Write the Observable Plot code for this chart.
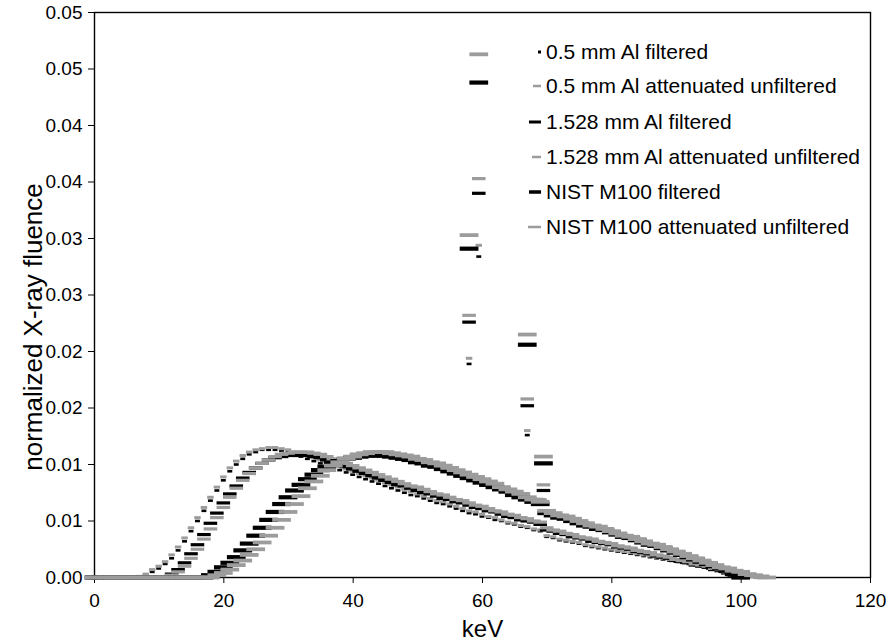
<!DOCTYPE html>
<html><head><meta charset="utf-8">
<script src="https://cdn.jsdelivr.net/npm/d3@7"></script>
<script src="https://cdn.jsdelivr.net/npm/@observablehq/plot@0.6"></script>
<style>
html,body{margin:0;padding:0;background:#fff;}
#chart{position:relative;width:890px;height:643px;}
</style></head><body><div id="chart"></div>
<script>
// ---- data ----
const keV = [0,1,2,3,4,5,6,7,8,9,10,11,12,13,14,15,16,17,18,19,20,21,22,23,24,25,26,27,28,29,30,31,32,33,34,35,36,37,38,39,40,41,42,43,44,45,46,47,48,49,50,51,52,53,54,55,56,57,58,59,60,61,62,63,64,65,66,67,68,69,70,71,72,73,74,75,76,77,78,79,80,81,82,83,84,85,86,87,88,89,90,91,92,93,94,95,96,97,98,99,100,101,102,103,104,105];

const seriesNames = ["0.5 mm Al filtered","0.5 mm Al attenuated unfiltered","1.528 mm Al filtered","1.528 mm Al attenuated unfiltered","NIST M100 filtered","NIST M100 attenuated unfiltered"];

// continuum spectra (one value per keV in the keV array)
const f05 = [0,0,0,0,0,0,0,0,0.0002,0.0005,0.0008,0.0012,0.0017,0.0024,0.0032,0.0041,0.0050,0.0059,0.0068,0.0077,0.0086,0.0094,0.0100,0.0105,0.0109,0.0111,0.0113,0.0113,0.0113,0.0112,0.0111,0.0109,0.0107,0.0105,0.0103,0.0101,0.0099,0.0097,0.0095,0.0093,0.0091,0.0089,0.0087,0.0085,0.0083,0.0081,0.0079,0.0077,0.0075,0.0073,0.0072,0.0070,0.0068,0.0066,0.0065,0.0063,0.0061,0.0059,0.0057,0.0056,0.0054,0.0053,0.0051,0.0050,0.0048,0.0047,0.0045,0.0044,0.0042,0.0041,0.0036,0.0035,0.0033,0.0032,0.0031,0.0030,0.0028,0.0027,0.0026,0.0025,0.0024,0.0023,0.0022,0.0021,0.0020,0.0019,0.0018,0.0017,0.0016,0.0015,0.0014,0.0013,0.0012,0.0011,0.0010,0.0008,0.0007,0.0005,0.0004,0.0002,0];
const a05 = [0,0,0,0,0,0,0,0.0001,0.0003,0.0007,0.0010,0.0014,0.0020,0.0027,0.0035,0.0044,0.0053,0.0062,0.0071,0.0080,0.0089,0.0097,0.0103,0.0108,0.0111,0.0113,0.0114,0.0115,0.0115,0.0114,0.0113,0.0111,0.0110,0.0108,0.0106,0.0104,0.0102,0.0100,0.0098,0.0096,0.0094,0.0092,0.0090,0.0088,0.0086,0.0084,0.0082,0.0080,0.0078,0.0076,0.0074,0.0072,0.0070,0.0068,0.0067,0.0065,0.0063,0.0061,0.0059,0.0058,0.0056,0.0054,0.0053,0.0051,0.0049,0.0048,0.0046,0.0045,0.0043,0.0042,0.0037,0.0036,0.0034,0.0033,0.0032,0.0031,0.0029,0.0028,0.0027,0.0026,0.0025,0.0024,0.0023,0.0022,0.0021,0.0020,0.0019,0.0018,0.0017,0.0016,0.0015,0.0014,0.0013,0.0012,0.0011,0.0010,0.0008,0.0007,0.0005,0.0004,0.0003,0.0002,0.0001,0];
const f1528 = [0,0,0,0,0,0,0,0,0,0,0,0,0.0003,0.0007,0.0013,0.0021,0.0029,0.0038,0.0048,0.0057,0.0066,0.0074,0.0081,0.0088,0.0093,0.0097,0.0101,0.0104,0.0106,0.0107,0.0108,0.0108,0.0108,0.0108,0.0107,0.0106,0.0104,0.0102,0.0100,0.0098,0.0096,0.0094,0.0092,0.0090,0.0088,0.0086,0.0084,0.0082,0.0081,0.0079,0.0077,0.0075,0.0074,0.0072,0.0070,0.0069,0.0067,0.0066,0.0064,0.0062,0.0061,0.0059,0.0058,0.0056,0.0054,0.0053,0.0051,0.0050,0.0049,0.0047,0.0042,0.0041,0.0039,0.0038,0.0036,0.0035,0.0034,0.0032,0.0031,0.0030,0.0029,0.0027,0.0026,0.0025,0.0023,0.0022,0.0021,0.0019,0.0018,0.0017,0.0015,0.0014,0.0013,0.0011,0.0010,0.0009,0.0007,0.0006,0.0004,0.0002,0];
const a1528 = [0,0,0,0,0,0,0,0,0,0,0,0,0.0002,0.0005,0.0010,0.0017,0.0025,0.0034,0.0043,0.0053,0.0062,0.0071,0.0079,0.0086,0.0092,0.0097,0.0101,0.0104,0.0107,0.0109,0.0110,0.0111,0.0111,0.0111,0.0110,0.0109,0.0107,0.0105,0.0103,0.0101,0.0099,0.0097,0.0095,0.0093,0.0091,0.0089,0.0087,0.0085,0.0083,0.0081,0.0080,0.0078,0.0076,0.0074,0.0073,0.0071,0.0069,0.0068,0.0066,0.0064,0.0063,0.0061,0.0059,0.0058,0.0056,0.0055,0.0053,0.0052,0.0050,0.0049,0.0044,0.0042,0.0041,0.0039,0.0038,0.0036,0.0035,0.0034,0.0032,0.0031,0.0030,0.0028,0.0027,0.0026,0.0024,0.0023,0.0022,0.0020,0.0019,0.0018,0.0016,0.0015,0.0014,0.0012,0.0011,0.0010,0.0008,0.0007,0.0005,0.0004,0.0003,0.0002,0.0001,0];
const fNIST = [0,0,0,0,0,0,0,0,0,0,0,0,0,0,0,0,0,0,0.0002,0.0005,0.0009,0.0013,0.0018,0.0024,0.0030,0.0037,0.0044,0.0051,0.0058,0.0065,0.0071,0.0077,0.0082,0.0087,0.0091,0.0095,0.0098,0.0101,0.0103,0.0105,0.0106,0.0107,0.0108,0.0108,0.0108,0.0108,0.0107,0.0106,0.0105,0.0104,0.0102,0.0101,0.0099,0.0098,0.0096,0.0094,0.0092,0.0090,0.0088,0.0086,0.0084,0.0082,0.0080,0.0078,0.0076,0.0073,0.0071,0.0069,0.0067,0.0065,0.0057,0.0055,0.0053,0.0052,0.0050,0.0048,0.0046,0.0045,0.0043,0.0042,0.0040,0.0038,0.0036,0.0035,0.0033,0.0031,0.0029,0.0028,0.0026,0.0024,0.0022,0.0020,0.0018,0.0016,0.0014,0.0012,0.0010,0.0008,0.0006,0.0003,0];
const aNIST = [0,0,0,0,0,0,0,0,0,0,0,0,0,0,0,0,0,0,0,0.0002,0.0004,0.0007,0.0011,0.0015,0.0020,0.0025,0.0031,0.0037,0.0044,0.0051,0.0058,0.0065,0.0072,0.0079,0.0085,0.0090,0.0095,0.0099,0.0102,0.0105,0.0107,0.0109,0.0110,0.0111,0.0111,0.0111,0.0110,0.0109,0.0108,0.0107,0.0105,0.0104,0.0102,0.0101,0.0099,0.0097,0.0095,0.0093,0.0091,0.0089,0.0087,0.0085,0.0083,0.0080,0.0078,0.0076,0.0074,0.0071,0.0069,0.0067,0.0059,0.0057,0.0055,0.0054,0.0052,0.0050,0.0048,0.0046,0.0045,0.0043,0.0041,0.0039,0.0037,0.0036,0.0034,0.0032,0.0030,0.0029,0.0027,0.0025,0.0023,0.0021,0.0019,0.0017,0.0015,0.0013,0.0011,0.0009,0.0008,0.0006,0.0005,0.0003,0.0002,0.0001,0];

// characteristic tungsten lines (K-alpha2, K-alpha1, K-beta1, K-beta2)
const lineKeV = [58, 59.5, 67, 69.5];
const linesF05   = [0.0189, 0.0284, 0.0126, 0.0065];
const linesA05   = [0.0194, 0.0294, 0.0130, 0.0069];
const linesF1528 = [0.0226, 0.0340, 0.0152, 0.0077];
const linesA1528 = [0.0232, 0.0353, 0.0158, 0.0082];
const linesFNIST = [0.0291, 0.0438, 0.0206, 0.0101];
const linesANIST = [0.0303, 0.0463, 0.0215, 0.0107];

// axis ticks
const xTicks = [0, 20, 40, 60, 80, 100, 120];
const yTickValues = [0, 0.005, 0.01, 0.015, 0.02, 0.025, 0.03, 0.035, 0.04, 0.045, 0.05];
const yTickLabels = ["0.00","0.01","0.01","0.02","0.02","0.03","0.03","0.04","0.04","0.05","0.05"];

// ---- styles (marker half-width in keV, stroke) ----
const GRAY = "#9c9c9c";
const styles = [
  {stroke: "#000", half: 0.38, width: 2.6},
  {stroke: GRAY,   half: 0.5,  width: 3},
  {stroke: "#000", half: 1.05, width: 3.2},
  {stroke: GRAY,   half: 1.05, width: 3.2},
  {stroke: "#000", half: 1.45, width: 4.2},
  {stroke: GRAY,   half: 1.45, width: 3.8}
];

const conts = [f05, a05, f1528, a1528, fNIST, aNIST];
const lines = [linesF05, linesA05, linesF1528, linesA1528, linesFNIST, linesANIST];

const seriesRows = conts.map((cont, si) => {
  const rows = [];
  cont.forEach((v, i) => { if (v != null) rows.push({series: seriesNames[si], keV: keV[i], v}); });
  lines[si].forEach((v, i) => rows.push({series: seriesNames[si], keV: lineKeV[i], v}));
  return rows;
});

const FONT = "'Liberation Sans', Arial, Helvetica, sans-serif";

const plot = Plot.plot({
  width: 890,
  height: 643,
  marginLeft: 94,
  marginRight: 20,
  marginTop: 12,
  marginBottom: 66,
  style: {fontFamily: FONT, fontSize: "19px", color: "#000", background: "#fff", overflow: "visible"},
  x: {domain: [0, 120], ticks: xTicks, tickSize: 6, tickPadding: 10, label: null},
  y: {domain: [0, 0.05], ticks: yTickValues, tickSize: 6, tickPadding: 6, label: null,
      tickFormat: d => yTickLabels[yTickValues.indexOf(d)]},
  marks: [
    Plot.frame({stroke: "#000", strokeWidth: 1.4}),
    ...seriesRows.map((rows, si) => Plot.ruleY(rows, {
      y: "v",
      x1: r => r.keV - styles[si].half,
      x2: r => r.keV + styles[si].half,
      stroke: styles[si].stroke,
      strokeWidth: styles[si].width
    })),
    Plot.text(["keV"], {text: d => d, frameAnchor: "bottom", lineAnchor: "middle", textAnchor: "middle", dy: 52, fontSize: 24}),
    Plot.text(["normalized X-ray fluence"], {text: d => d, frameAnchor: "left", textAnchor: "middle", lineAnchor: "middle", dx: -61, dy: 32, rotate: -90, fontSize: 26})
  ]
});

document.getElementById("chart").appendChild(plot);

// ---- legend inside the plot area ----
const svg = d3.select(plot);
const legendY = [52, 86, 122, 157, 192, 227];
const legendMarker = [
  {w: 3, h: 3, c: "#000"},
  {w: 8, h: 2.5, c: GRAY},
  {w: 12, h: 3, c: "#000"},
  {w: 9, h: 2.5, c: GRAY},
  {w: 12, h: 3.5, c: "#000"},
  {w: 13, h: 2.5, c: GRAY}
];
const lg = svg.append("g").attr("font-family", FONT).attr("font-size", 21).attr("text-anchor", "start");
seriesNames.forEach((name, i) => {
  const m = legendMarker[i];
  lg.append("rect").attr("x", 541 - m.w).attr("y", legendY[i] - m.h / 2)
    .attr("width", m.w).attr("height", m.h).attr("fill", m.c);
  lg.append("text").attr("x", 546).attr("y", legendY[i]).attr("dy", "0.35em")
    .attr("text-anchor", "start").attr("fill", "#000").text(name);
});
</script>
</body></html>
